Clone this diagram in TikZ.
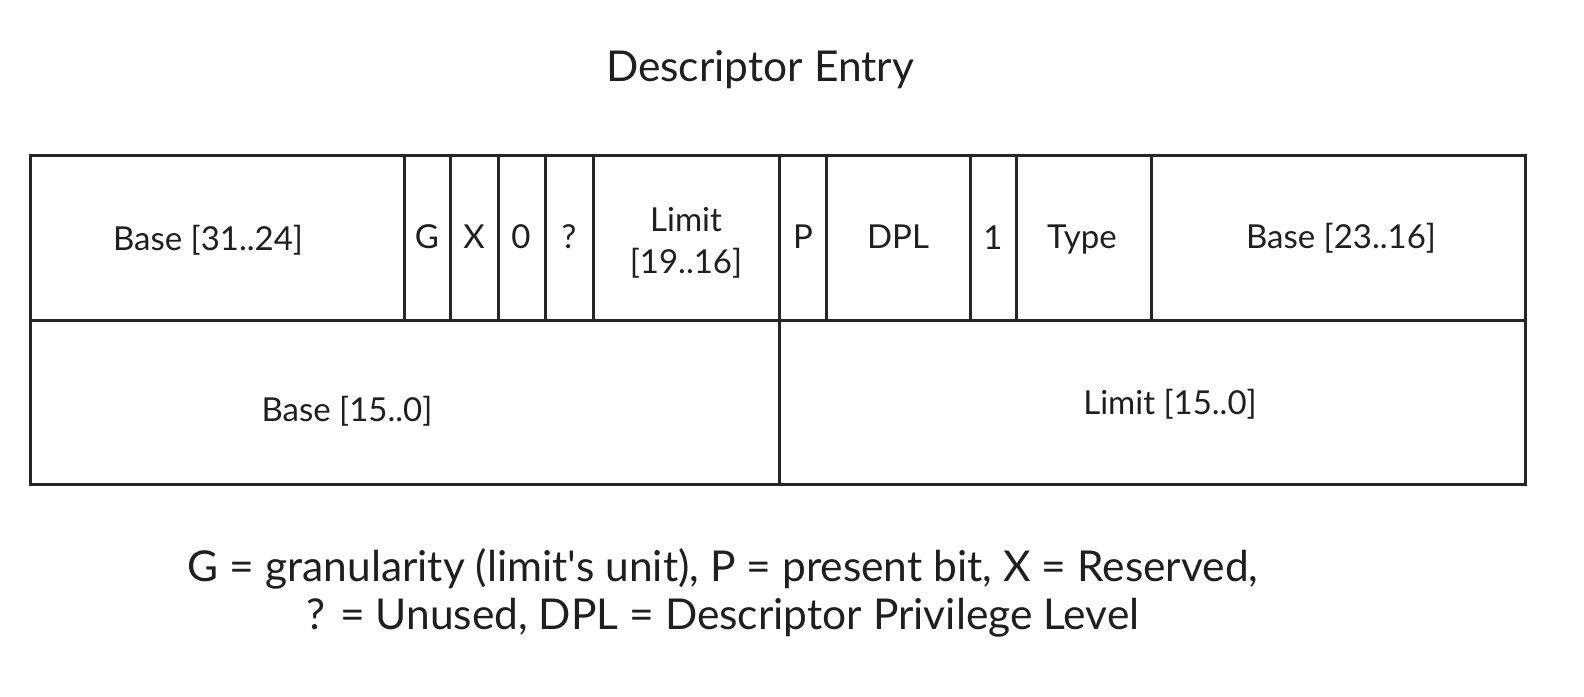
\documentclass[tikz,border=0pt]{standalone}
\usepackage{fontspec}
\setmainfont{Lato}[Ligatures=TeXOff]
\begin{document}
\begin{tikzpicture}[x=1pt,y=-1pt,
  cell/.style={draw=black!85,line width=3pt,inner sep=0pt,outer sep=0pt,anchor=north west,font=\fontsize{33}{42.5}\selectfont,align=center,text=black!88},
  lbl/.style={font=\fontsize{42.5}{48.5}\selectfont,align=center,text=black!88}]
\useasboundingbox (0,0) rectangle (1584,696);
\def\T{155}\def\M{320}\def\B{484}
\node[cell,minimum width=374pt,minimum height=165pt] (b3124) at (30,\T) {};
\node[cell,minimum width=46pt,minimum height=165pt] (g) at (404,\T) {};
\node[cell,minimum width=48pt,minimum height=165pt] (x) at (450,\T) {};
\node[cell,minimum width=47pt,minimum height=165pt] (z) at (498,\T) {};
\node[cell,minimum width=48pt,minimum height=165pt] (q) at (545,\T) {};
\node[cell,minimum width=186pt,minimum height=165pt] (lim) at (593,\T) {};
\node[cell,minimum width=47pt,minimum height=165pt] (p) at (779,\T) {};
\node[cell,minimum width=144pt,minimum height=165pt] (dpl) at (826,\T) {};
\node[cell,minimum width=46pt,minimum height=165pt] (one) at (970,\T) {};
\node[cell,minimum width=135pt,minimum height=165pt] (type) at (1016,\T) {};
\node[cell,minimum width=374pt,minimum height=165pt] (b2316) at (1151,\T) {};
\node[cell,minimum width=749pt,minimum height=164pt] (b150) at (30,\M) {};
\node[cell,minimum width=746pt,minimum height=164pt] (l150) at (779,\M) {};
% labels
\node[cell,draw=none,anchor=center] at (208,240) {Base [31..24]};
\node[cell,draw=none,anchor=center] at (427,237) {G};
\node[cell,draw=none,anchor=center] at (474,237) {X};
\node[cell,draw=none,anchor=center] at (521,237) {0};
\node[cell,draw=none,anchor=center] at (569,237) {?};
\node[cell,draw=none,anchor=center] at (686,243) {Limit\\{}[19..16]};
\node[cell,draw=none,anchor=center] at (803,237) {P};
\node[cell,draw=none,anchor=center] at (898,237) {DPL};
\node[cell,draw=none,anchor=center] at (993,238) {1};
\node[cell,draw=none,anchor=center] at (1082,240) {Type};
\node[cell,draw=none,anchor=center] at (1341,238) {Base [23..16]};
\node[cell,draw=none,anchor=center] at (347,411) {Base [15..0]};
\node[cell,draw=none,anchor=center] at (1170,404) {Limit [15..0]};
\node[lbl] (title) at (760,70) {Descriptor Entry};
\node[lbl] (legend) at (723,593) {G = granularity (limit's unit), P = present bit, X = Reserved,\\{}? = Unused, DPL = Descriptor Privilege Level};
\end{tikzpicture}
\end{document}
